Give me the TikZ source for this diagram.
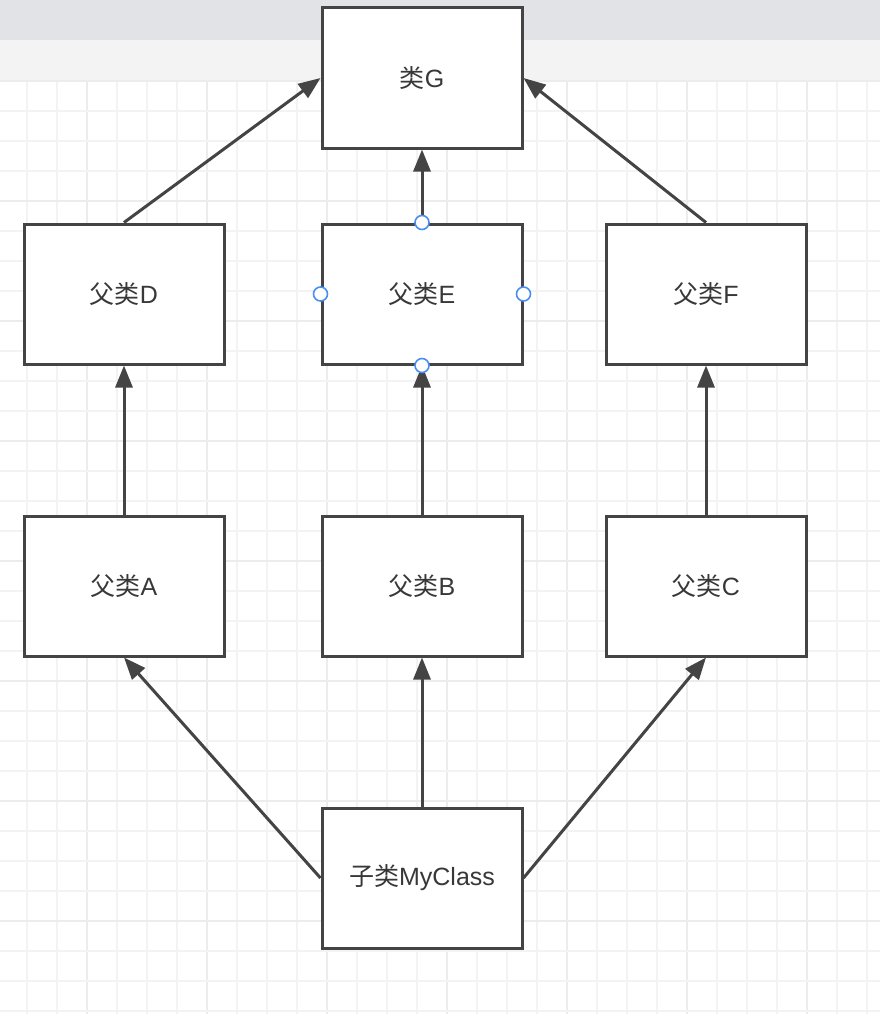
\documentclass[tikz,border=0pt]{standalone}
\usepackage{fontspec}
\setmainfont{Liberation Sans}
\newfontfamily\cjk{Noto Sans CJK SC}
\usetikzlibrary{arrows.meta}
\definecolor{inkgray}{HTML}{444444}
\definecolor{textgray}{HTML}{383838}
\definecolor{gridthin}{HTML}{F3F3F3}
\definecolor{gridthick}{HTML}{ECECEC}
\definecolor{barback}{HTML}{E2E3E7}
\definecolor{barfront}{HTML}{F3F3F3}
\definecolor{handleblue}{HTML}{4A8FF0}

\begin{document}
\begin{tikzpicture}[x=1pt,y=-1pt,
  cls/.style={draw=inkgray, fill=white, line width=3pt, minimum width=200pt, minimum height=140pt, inner sep=0pt, font=\fontsize{25}{29}\selectfont, text=textgray},
  inherit/.style={draw=inkgray, line width=3pt, -{Triangle[length=22pt,width=17pt]}},
  handle/.style={circle, draw=handleblue, fill=white, line width=1.6pt, minimum size=14pt, inner sep=0pt}]
\useasboundingbox (0,0) rectangle (880,1014);
% canvas
\fill[white] (0,0) rectangle (880,1014);
\foreach \k in {0,...,28} {
  \pgfmathtruncatemacro{\m}{mod(\k,4)}
  \ifnum\m=2 \draw[gridthick, line width=1.8pt] (27+30*\k,81) -- (27+30*\k,1014);
  \else \draw[gridthin, line width=1.4pt] (27+30*\k,81) -- (27+30*\k,1014); \fi
}
\foreach \k in {0,...,31} {
  \pgfmathtruncatemacro{\m}{mod(\k,4)}
  \ifnum\m=0 \draw[gridthick, line width=1.8pt] (0,81+30*\k) -- (880,81+30*\k);
  \else \draw[gridthin, line width=1.4pt] (0,81+30*\k) -- (880,81+30*\k); \fi
}
\fill[barback] (0,0) rectangle (880,40);
\fill[barfront] (0,40) rectangle (880,80);

% classes
\node[cls] (g) at (422,78) {{\cjk 类}G};
\node[cls] (d) at (124,294) {{\cjk 父类}D};
\node[cls] (e) at (422,294) {{\cjk 父类}E};
\node[cls] (f) at (706,294) {{\cjk 父类}F};
\node[cls] (a) at (124,586) {{\cjk 父类}A};
\node[cls] (b) at (422,586) {{\cjk 父类}B};
\node[cls] (c) at (706,586) {{\cjk 父类}C};
\node[cls] (my) at (422,878) {{\cjk 子类}MyClass};

% inheritance
\draw[inherit] (d.north) -- (g.west);
\draw[inherit] (e.north) -- (g.south);
\draw[inherit] (f.north) -- (g.east);
\draw[inherit] (a.north) -- (d.south);
\draw[inherit] (b.north) -- (e.south);
\draw[inherit] (c.north) -- (f.south);
\draw[inherit] (my.west) -- (a.south);
\draw[inherit] (my.north) -- (b.south);
\draw[inherit] (my.east) -- (c.south);

% selection handles on E
\node[handle] (en) at (e.north) {};
\node[handle] (es) at (e.south) {};
\node[handle] (ew) at (e.west) {};
\node[handle] (ee) at (e.east) {};
\end{tikzpicture}
\end{document}
